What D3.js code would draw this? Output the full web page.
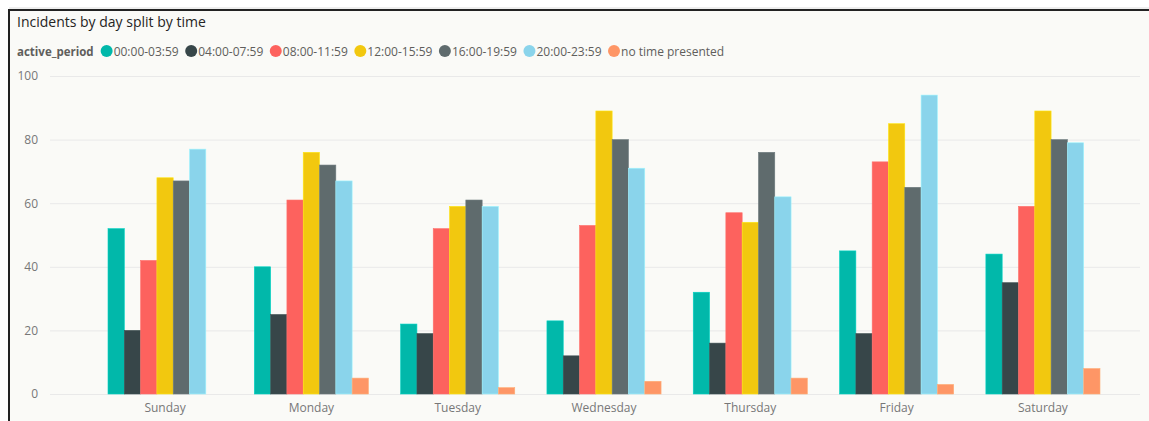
<!DOCTYPE html>
<html>
<head>
<meta charset="utf-8">
<script src="https://cdn.jsdelivr.net/npm/d3@7/dist/d3.min.js"></script>
<style>
  html, body { margin: 0; padding: 0; background: #ffffff; }
  svg { display: block; }
  text { font-family: "Segoe UI", "Open Sans", "Noto Sans", sans-serif; }
</style>
</head>
<body>
<svg id="chart" width="1149" height="421"></svg>
<script>
const days = ["Sunday", "Monday", "Tuesday", "Wednesday", "Thursday", "Friday", "Saturday"];
const periods = ["00:00-03:59", "04:00-07:59", "08:00-11:59", "12:00-15:59", "16:00-19:59", "20:00-23:59", "no time presented"];
const colors = ["#01B8AA", "#374649", "#FD625E", "#F2C80F", "#5F6B6D", "#8AD4EB", "#FE9666"];
const v0000 = [52, 40, 22, 23, 32, 45, 44];
const v0400 = [20, 25, 19, 12, 16, 19, 35];
const v0800 = [42, 61, 52, 53, 57, 73, 59];
const v1200 = [68, 76, 59, 89, 54, 85, 89];
const v1600 = [67, 72, 61, 80, 76, 65, 80];
const v2000 = [77, 67, 59, 71, 62, 94, 79];
const vNone = [null, 5, 2, 4, 5, 3, 8];
const yTicks = [0, 20, 40, 60, 80, 100];
const title = "Incidents by day split by time";
const legendTitle = "active_period";

const seriesValues = [v0000, v0400, v0800, v1200, v1600, v2000, vNone];

const svg = d3.select("#chart");

// panel frame
svg.append("rect").attr("x", 9).attr("y", 10).attr("width", 1140).attr("height", 411).attr("fill", "#FAFAF7");
svg.append("line").attr("x1", 9).attr("x2", 1149).attr("y1", 10).attr("y2", 10).attr("stroke", "#222").attr("stroke-width", 2);
svg.append("line").attr("x1", 9).attr("x2", 9).attr("y1", 9).attr("y2", 421).attr("stroke", "#222").attr("stroke-width", 2);
svg.append("line").attr("x1", 9).attr("x2", 1149).attr("y1", 8).attr("y2", 8).attr("stroke", "#ddd").attr("stroke-width", 1);

// title
svg.append("text").attr("x", 17).attr("y", 27).attr("fill", "#252423")
  .style("font-size", "14px").text(title);

// legend
const lg = svg.append("g").attr("transform", "translate(0,51)");
const lt = lg.append("text").attr("x", 17).attr("y", 4.5).attr("fill", "#605E5C")
  .style("font-size", "11.5px").style("font-weight", "bold").text(legendTitle);
let lx = 17 + lt.node().getComputedTextLength() + 13;
periods.forEach((p, i) => {
  lg.append("circle").attr("cx", lx).attr("cy", 0).attr("r", 6).attr("fill", colors[i]);
  const t = lg.append("text").attr("x", lx + 7).attr("y", 4.5).attr("fill", "#605E5C")
    .style("font-size", "12px").text(p);
  lx += 7 + t.node().getComputedTextLength() + 12.5;
});

// scales
const y = d3.scaleLinear().domain([0, 100]).range([394, 76]);
const x = d3.scaleBand().domain(days).range([108, 1100]).paddingInner(0.22).paddingOuter(0);
const xs = d3.scaleBand().domain(periods).range([0, x.bandwidth()]).padding(0);

// gridlines
const grid = svg.append("g").attr("transform", "translate(50,0)")
  .call(d3.axisLeft(y).tickValues(yTicks).tickSize(-1090).tickFormat(""));
grid.select(".domain").remove();
grid.selectAll(".tick line").attr("stroke", "#E9E9E9").attr("stroke-width", 1);

// y labels
const yAxis = svg.append("g").attr("transform", "translate(38,0)")
  .call(d3.axisLeft(y).tickValues(yTicks).tickSize(0).tickPadding(0));
yAxis.select(".domain").remove();
yAxis.selectAll("text").attr("fill", "#777").style("font-size", "12px")
  .style("font-family", "'Segoe UI', 'Open Sans', 'Noto Sans', sans-serif");

// bars
const groups = svg.append("g").selectAll("g").data(days).join("g")
  .attr("transform", d => `translate(${x(d)},0)`);
groups.selectAll("rect")
  .data((d, di) => periods.map((p, pi) => ({ p, pi, v: seriesValues[pi][di] })).filter(e => e.v != null))
  .join("rect")
  .attr("x", e => xs(e.p))
  .attr("width", xs.bandwidth())
  .attr("y", e => y(e.v))
  .attr("height", e => y(0) - y(e.v))
  .attr("fill", e => colors[e.pi])
  .attr("stroke", e => d3.color(colors[e.pi]).brighter(0.4))
  .attr("stroke-width", 0.6);

// x labels
const xAxis = svg.append("g").attr("transform", "translate(0,394)")
  .call(d3.axisBottom(x).tickSize(0).tickPadding(9));
xAxis.select(".domain").remove();
xAxis.selectAll("text").attr("fill", "#777").style("font-size", "12px")
  .style("font-family", "'Segoe UI', 'Open Sans', 'Noto Sans', sans-serif");
</script>
</body>
</html>
